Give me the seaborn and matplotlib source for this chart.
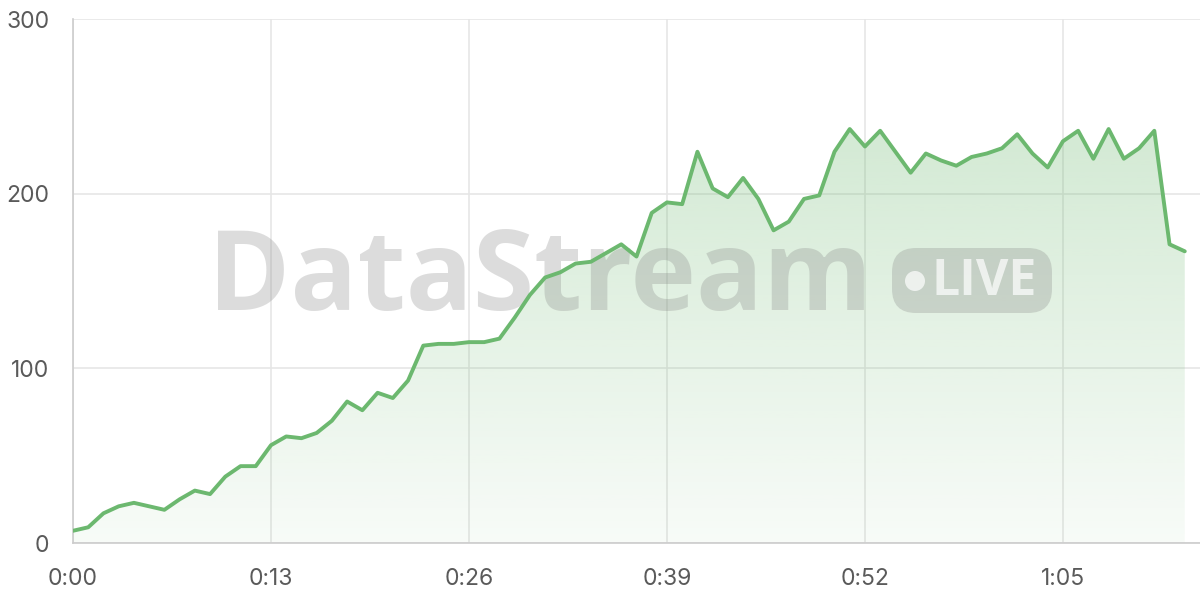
import numpy as np
import pandas as pd
import matplotlib
matplotlib.use('Agg')
import matplotlib.pyplot as plt
import matplotlib.transforms as mtrans
import seaborn as sns
from matplotlib.patches import FancyBboxPatch, Circle

# viewers per second of the stream
seconds = list(range(74))
viewers = [7, 9, 17, 21, 23, 21, 19, 25, 30, 28,
           38, 44, 44, 56, 61, 60, 63, 70, 81, 76,
           86, 83, 93, 113, 114, 114, 115, 115, 117, 129,
           142, 152, 155, 160, 161, 166, 171, 164, 189, 195,
           194, 224, 203, 198, 209, 197, 179, 184, 197, 199,
           224, 237, 227, 236, 224, 212, 223, 219, 216, 221,
           223, 226, 234, 223, 215, 230, 236, 220, 237, 220,
           226, 236, 171, 167]
tick_secs = [0, 13, 26, 39, 52, 65]
tick_labels = ['0:00', '0:13', '0:26', '0:39', '0:52', '1:05']
y_ticks = [0, 100, 200, 300]

data = pd.DataFrame({'t': seconds, 'viewers': viewers})

sns.set_style('white')
plt.rcParams['font.family'] = ['Inter', 'DejaVu Sans']

line_col = '#6cb86f'
grid_col = '#e6e6e6'

fig = plt.figure(figsize=(12, 6), dpi=100)
ax = fig.add_axes([73 / 1200, 57 / 600, 1127 / 1200, 524 / 600])

# pixel coords measured from the top-left corner of the image
px = mtrans.Affine2D().scale(1, -1).translate(0, 600)

# gradient fill under the line
poly = ax.fill_between(data['t'], data['viewers'], 0, color='none', lw=0)
grad = np.linspace(0.05, 0.30, 256).reshape(-1, 1)
rgba = np.zeros((256, 1, 4))
rgba[..., 0] = 0x6c / 255
rgba[..., 1] = 0xb8 / 255
rgba[..., 2] = 0x6f / 255
rgba[..., 3] = grad
img = ax.imshow(rgba, aspect='auto', origin='lower',
                extent=[0, 73, 0, max(viewers)], zorder=1)
img.set_clip_path(poly.get_paths()[0], transform=ax.transData)

# watermark, between the fill and the line
ax.text(540, 281, 'DataStream', transform=px, fontsize=80,
        family='Open Sans', fontweight='bold', color='#808080', alpha=0.27,
        ha='center', va='center', zorder=3)
pill = FancyBboxPatch((892, 248), 160, 65,
                      boxstyle='round,pad=0,rounding_size=24',
                      transform=px, facecolor='#808080',
                      edgecolor='none', alpha=0.27, zorder=3)
ax.add_patch(pill)
ax.add_patch(Circle((915, 281), 10, transform=px, facecolor='white',
                    edgecolor='none', alpha=0.7, zorder=3))
ax.text(984, 282, 'LIVE', transform=px, fontsize=36, family='Open Sans',
        fontweight='bold', color='white', alpha=0.7,
        ha='center', va='center', zorder=3)

sns.lineplot(data=data, x='t', y='viewers', ax=ax, color=line_col,
             linewidth=2.8, zorder=4)

ax.set_xlim(0, 74)
ax.set_ylim(0, 300)
ax.set_xticks(tick_secs)
ax.set_xticklabels(tick_labels)
ax.set_yticks(y_ticks)
ax.set_xlabel('')
ax.set_ylabel('')
ax.grid(True, color=grid_col, linewidth=1.2, zorder=0)
ax.tick_params(axis='both', length=11, width=1.2, color=grid_col,
               labelsize=16.5, labelcolor='#5a5a5a')
ax.tick_params(axis='y', pad=6)
ax.tick_params(axis='x', pad=7)
for side in ['top', 'right']:
    ax.spines[side].set_visible(False)
for side in ['left', 'bottom']:
    ax.spines[side].set_color('#cccccc')
    ax.spines[side].set_linewidth(1.2)

fig.savefig('out.png', dpi=100)
